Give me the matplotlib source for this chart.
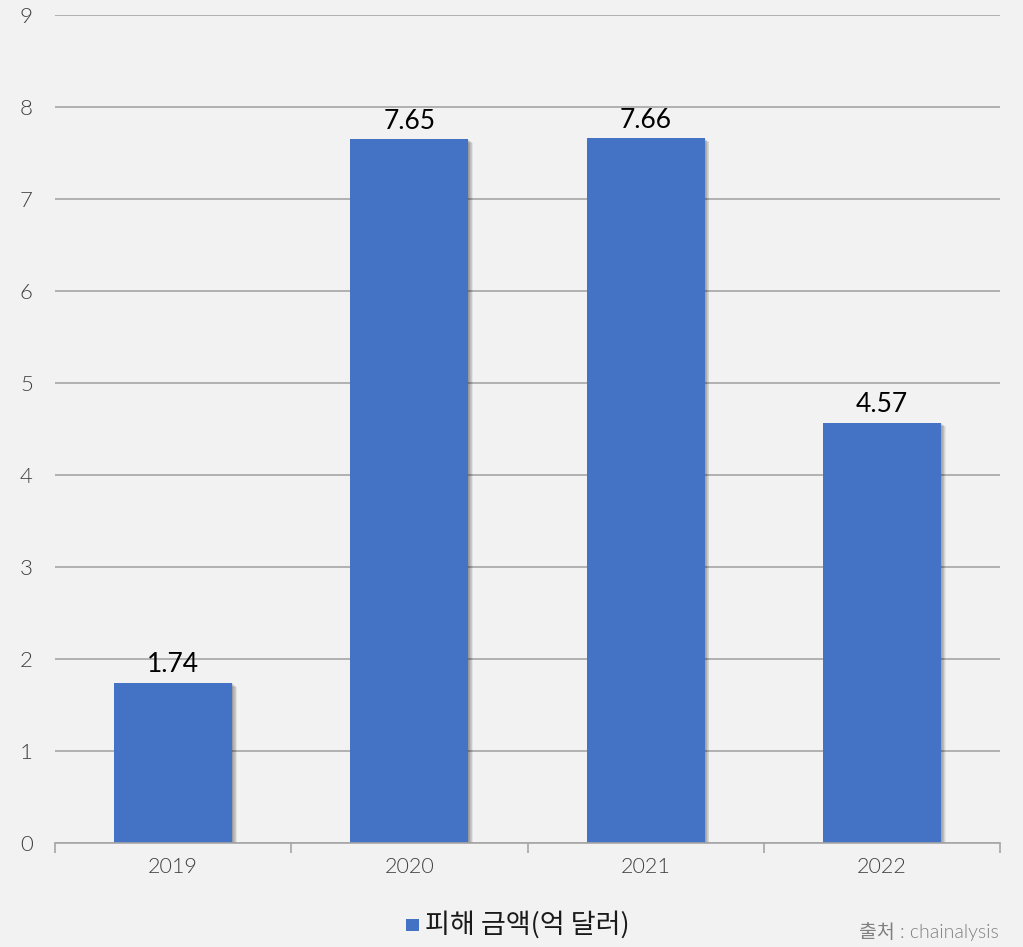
import matplotlib.pyplot as plt
from matplotlib.patches import Rectangle

years = ['2019', '2020', '2021', '2022']
damage = [1.74, 7.65, 7.66, 4.57]
y_ticks = [0, 1, 2, 3, 4, 5, 6, 7, 8, 9]

bg = '#f2f2f2'
bar_color = '#4472c4'
grid_color = '#a6a6a6'
lato_kr = ['Lato', 'Noto Sans CJK KR', 'DejaVu Sans']

fig = plt.figure(figsize=(10.23, 9.47), dpi=100, facecolor=bg)
ax = fig.add_axes([0.0538, 0.1098, 0.9237, 0.8744])
ax.set_facecolor(bg)

x = list(range(len(years)))
width = 0.5

# soft drop shadow behind bars
for i, v in enumerate(damage):
    for k in range(7):
        off = 0.002 + k * 0.003
        ax.add_patch(Rectangle((i - width / 2 + off, -0.2), width, v + 0.2 - off * 2,
                               facecolor='black', alpha=0.06, linewidth=0, zorder=1.5))

bars = ax.bar(x, damage, width=width, color=bar_color, zorder=2)

for i, v in enumerate(damage):
    ax.text(i, v + 0.06, f'{v:.2f}', ha='center', va='bottom', fontsize=19,
            family='Lato', color='black', zorder=3)

ax.set_xlim(-0.5, len(years) - 0.5)
ax.set_ylim(0, 9)
ax.set_yticks(y_ticks)
ax.set_yticklabels([str(t) for t in y_ticks], family='Lato', fontweight=300,
                   fontsize=16, color='#404040')
ax.yaxis.grid(True, color=grid_color, linewidth=1.2, zorder=0)
ax.set_axisbelow(True)
ax.tick_params(axis='y', length=0, pad=16)

ax.set_xticks([i - 0.5 for i in range(len(years) + 1)])
ax.set_xticklabels([])
ax.set_xticks(x, minor=True)
ax.set_xticklabels(years, minor=True, family='Lato', fontweight=300,
                   fontsize=15.5, color='#404040')
ax.tick_params(axis='x', which='major', length=7, color=grid_color, width=1.2)
ax.tick_params(axis='x', which='minor', length=0, pad=10)

for s in ['top', 'right', 'left']:
    ax.spines[s].set_visible(False)
ax.spines['bottom'].set_color(grid_color)
ax.spines['bottom'].set_linewidth(1.2)

# legend
fig.patches.append(Rectangle((0.397, 0.0165), 0.0125, 0.0135, transform=fig.transFigure,
                             facecolor=bar_color, edgecolor='none'))
fig.text(0.415, 0.0235, '피해 금액(억 달러)', ha='left', va='center', fontsize=19.5,
         family=['Noto Sans CJK KR', 'DejaVu Sans'], color='#1a1a1a')

fig.text(0.976, 0.016, '출처 : chainalysis', ha='right', va='center', fontsize=14,
         family=lato_kr, fontweight=300, color='#808080')

fig.savefig('out.png', dpi=100, facecolor=bg)
